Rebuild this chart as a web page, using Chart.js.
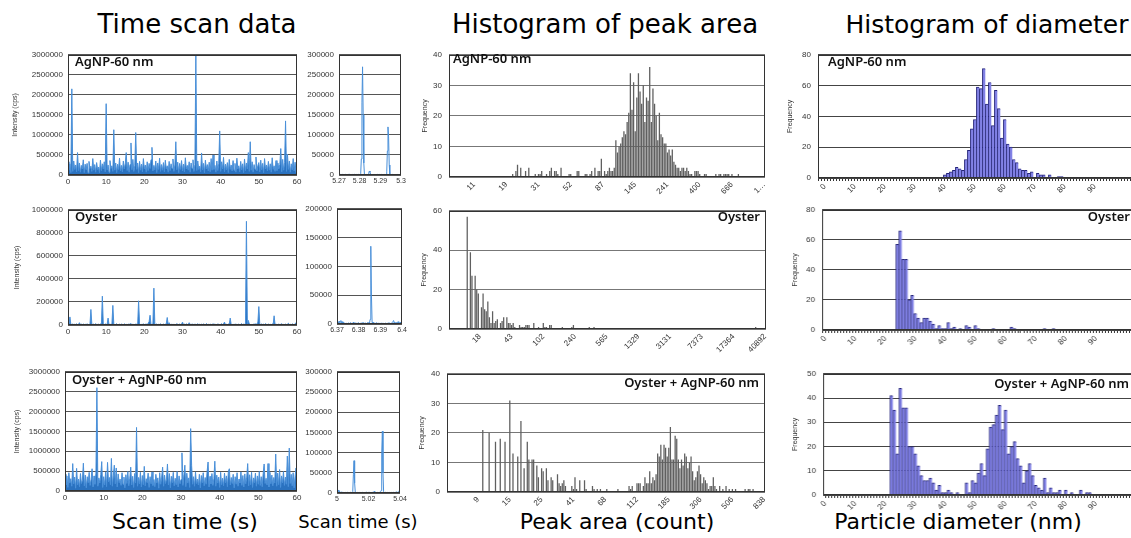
<!DOCTYPE html>
<html>
<head>
<meta charset="utf-8">
<script src="https://cdn.jsdelivr.net/npm/chart.js@4.4.1/dist/chart.umd.min.js"></script>
<style>
html, body { margin: 0; padding: 0; background: #fff; overflow: hidden; }
body { width: 1131px; height: 538px; position: relative; font-family: "DejaVu Sans", sans-serif; }
.box { position: absolute; }
.txt { position: absolute; white-space: nowrap; color: #000; line-height: 1; }
.head { font-size: 26px; transform: translateX(-50%); }
.foot { font-size: 22px; transform: translateX(-50%); }
.lab { font-family: "Noto Sans", sans-serif; font-weight: 600; font-size: 13px; color: #111; }
</style>
</head>
<body>

<div class="txt head" style="left:197px; top:11px;">Time scan data</div>
<div class="txt head" style="left:605px; top:11px;">Histogram of peak area</div>
<div class="txt head" style="left:987px; top:12px; font-size:25px;">Histogram of diameter</div>

<div class="txt foot" style="left:185px; top:511px;">Scan time (s)</div>
<div class="txt foot" style="left:358px; top:513px; font-size:18px;">Scan time (s)</div>
<div class="txt foot" style="left:617px; top:511px;">Peak area (count)</div>
<div class="txt foot" style="left:958px; top:511px;">Particle diameter (nm)</div>

<div class="box" id="c1"><canvas></canvas></div>
<div class="box" id="c2"><canvas></canvas></div>
<div class="box" id="c3"><canvas></canvas></div>
<div class="box" id="c4"><canvas></canvas></div>
<div class="box" id="c5"><canvas></canvas></div>
<div class="box" id="c6"><canvas></canvas></div>
<div class="box" id="c7"><canvas></canvas></div>
<div class="box" id="c8"><canvas></canvas></div>
<div class="box" id="c9"><canvas></canvas></div>
<div class="box" id="c10"><canvas></canvas></div>
<div class="box" id="c11"><canvas></canvas></div>
<div class="box" id="c12"><canvas></canvas></div>

<div class="txt lab" style="left:75px; top:55px;">AgNP-60 nm</div>
<div class="txt lab" style="left:75px; top:210px;">Oyster</div>
<div class="txt lab" style="left:72px; top:373px;">Oyster + AgNP-60 nm</div>
<div class="txt lab" style="left:453px; top:52px;">AgNP-60 nm</div>
<div class="txt lab" style="right:371px; top:210px;">Oyster</div>
<div class="txt lab" style="right:372px; top:376px;">Oyster + AgNP-60 nm</div>
<div class="txt lab" style="left:828px; top:55px;">AgNP-60 nm</div>
<div class="txt lab" style="right:1px; top:210px;">Oyster</div>
<div class="txt lab" style="right:2px; top:377px;">Oyster + AgNP-60 nm</div>

<script>
// ---- Time scan data (0 - 60 s, one value every 0.25 s) ----
const scanStep = 0.25;
const agnpScan = [
  330000,120000,280000,60000,2150000,90000,350000,140000,250000,80000,560000,110000,300000,70000,240000,150000,380000,60000,270000,130000,
  290000,50000,340000,160000,220000,90000,410000,120000,260000,70000,310000,140000,200000,60000,370000,110000,280000,150000,330000,80000,
  1780000,130000,250000,70000,360000,160000,230000,90000,1130000,120000,300000,60000,270000,140000,420000,100000,240000,80000,350000,150000,
  280000,560000,110000,320000,70000,260000,800000,130000,390000,90000,230000,1060000,140000,300000,60000,340000,120000,270000,80000,410000,
  150000,250000,70000,330000,110000,290000,160000,380000,690000,100000,240000,130000,350000,60000,300000,140000,420000,90000,260000,120000,
  310000,80000,370000,150000,230000,70000,340000,110000,280000,160000,400000,90000,250000,830000,130000,320000,60000,290000,140000,360000,
  100000,270000,80000,430000,150000,240000,120000,330000,70000,300000,160000,380000,90000,260000,3000000,110000,350000,140000,220000,80000,
  550000,130000,290000,60000,370000,150000,260000,100000,320000,80000,410000,120000,500000,140000,240000,70000,350000,110000,280000,1100000,
  90000,330000,150000,440000,80000,270000,130000,310000,60000,390000,140000,250000,100000,360000,120000,290000,70000,420000,150000,230000,
  80000,340000,130000,280000,60000,400000,110000,300000,150000,560000,90000,830000,120000,330000,70000,260000,140000,450000,100000,240000,
  310000,80000,370000,130000,290000,60000,410000,150000,250000,100000,340000,120000,280000,70000,430000,140000,230000,90000,360000,110000,
  300000,150000,260000,660000,80000,390000,120000,310000,1350000,90000,520000,140000,350000,70000,280000,130000,410000,100000,320000,60000,
  250000
];
const oysterScan = [
  8000,3000,70000,5000,2000,9000,4000,6000,3000,11000,2000,5000,20000,4000,7000,3000,9000,2000,6000,4000,
  10000,3000,5000,2000,135000,6000,4000,8000,3000,12000,2000,5000,7000,3000,9000,4000,250000,6000,3000,10000,
  2000,5000,60000,4000,8000,3000,6000,170000,9000,2000,5000,11000,3000,4000,7000,2000,8000,5000,3000,10000,
  4000,6000,2000,9000,3000,12000,5000,2000,7000,4000,3000,8000,6000,2000,210000,9000,3000,5000,4000,11000,
  2000,6000,8000,3000,15000,30000,85000,5000,4000,12000,320000,7000,3000,9000,2000,6000,5000,10000,3000,4000,
  8000,2000,6000,11000,65000,5000,20000,3000,7000,4000,9000,2000,6000,3000,12000,5000,4000,8000,2000,6000,
  25000,3000,7000,4000,10000,2000,5000,20000,6000,3000,9000,4000,2000,8000,5000,3000,11000,4000,6000,2000,
  7000,3000,9000,5000,2000,12000,4000,6000,3000,8000,2000,5000,10000,3000,7000,4000,2000,9000,6000,3000,
  5000,11000,4000,8000,25000,3000,6000,2000,9000,4000,60000,5000,3000,7000,2000,10000,4000,6000,3000,8000,
  2000,5000,12000,3000,7000,4000,15000,900000,6000,40000,9000,3000,5000,2000,8000,4000,11000,3000,6000,25000,
  160000,5000,3000,9000,4000,7000,2000,12000,5000,3000,8000,4000,6000,2000,10000,3000,80000,5000,7000,4000,
  2000,9000,3000,6000,11000,4000,5000,2000,8000,3000,7000,15000,4000,6000,2000,10000,5000,3000,9000,20000,
  6000
];
const mixScan = [
  420000,150000,380000,90000,460000,200000,310000,120000,690000,180000,350000,70000,570000,160000,300000,110000,440000,190000,270000,700000,
  130000,400000,80000,360000,210000,470000,140000,290000,560000,100000,380000,170000,450000,2600000,120000,330000,200000,410000,740000,90000,
  360000,150000,480000,110000,720000,230000,340000,160000,820000,120000,390000,650000,180000,580000,100000,430000,210000,300000,140000,460000,
  170000,350000,80000,410000,190000,490000,130000,320000,600000,150000,370000,90000,440000,200000,1600000,120000,340000,180000,470000,100000,
  390000,160000,620000,130000,310000,210000,450000,90000,360000,180000,480000,140000,290000,110000,420000,200000,330000,70000,460000,170000,
  350000,600000,120000,400000,190000,300000,680000,150000,440000,80000,370000,210000,470000,130000,320000,160000,490000,100000,380000,180000,
  290000,960000,140000,410000,650000,110000,450000,200000,330000,90000,1570000,640000,170000,360000,120000,480000,190000,300000,150000,420000,
  80000,390000,210000,460000,130000,340000,170000,490000,730000,100000,370000,180000,440000,140000,310000,750000,120000,400000,200000,350000,
  90000,470000,160000,320000,130000,450000,210000,380000,110000,490000,560000,150000,340000,190000,420000,80000,360000,170000,460000,120000,
  300000,200000,480000,140000,390000,100000,430000,180000,350000,690000,130000,410000,160000,470000,90000,330000,210000,450000,120000,380000,
  170000,490000,140000,360000,110000,440000,680000,190000,320000,150000,690000,100000,470000,180000,400000,130000,340000,200000,930000,120000,
  450000,160000,540000,90000,380000,210000,490000,140000,350000,170000,880000,110000,1080000,190000,420000,130000,460000,80000,370000,580000,
  200000
];

// ---- Zoomed single-particle events ----
const agnpZoomStart = 5.27, agnpZoomStep = 0.0003;
const agnpZoom = [
  2000,500,1500,0,1000,2500,500,0,1500,1000,0,2000,500,1000,0,1500,500,2000,0,1000,500,0,1500,1000,500,2000,0,1000,1500,500,0,1000,2000,500,1000,
  3000,40000,180000,270000,150000,30000,2000,
  500,1000,0,1500,500,1000,
  5000,10000,7000,1500,
  500,0,1000,1500,500,0,2000,1000,500,0,1500,500,1000,0,2000,500,1000,1500,0,500,1000,0,1500,500,1000,
  8000,60000,120000,95000,25000,2000,
  500,1000,0,1500,500,1000,0,2000,500,1000,0,500,1500,1000,0,500,1000,1500
];
const oysterZoomStart = 6.37, oysterZoomStep = 0.0003;
const oysterZoom = [
  3000,1000,4000,2000,5000,3000,6000,2000,4000,1000,3000,500,2000,1000,0,1500,500,2000,1000,0,1000,2500,500,1500,0,3000,1000,500,2000,0,1000,1500,500,2500,1000,0,1500,500,2000,1000,3000,500,1500,0,2000,1000,500,2500,1000,3000,1500,
  8000,135000,50000,3000,
  1000,3000,500,2000,1500,0,2500,1000,500,2000,0,1500,1000,500,2000,1000,0,1500,500,1000,2000,500,0,1500,1000,2500,500,1000,0,2000,1000,4000,6000,3000,1000,2000,500,3000,1000,4000,2000,1000,3000,500,2000,1000
];
const mixZoomStart = 5.0, mixZoomStep = 0.0004;
const mixZoom = [
  8000,5000,7000,3000,4000,2000,1000,3000,500,1500,0,2000,1000,500,1500,0,1000,2000,500,1000,0,1500,2500,500,1000,
  4000,45000,80000,25000,2000,
  500,1000,0,1500,500,2000,1000,0,1500,500,1000,2000,500,0,1000,1500,500,2500,1000,0,1500,500,2000,1000,500,0,1000,2500,1500,4000,2000,500,1000,0,1500,500,1000,2000,500,3000,
  6000,100000,153000,50000,3000,
  1000,500,2000,0,1000,1500,500,1000,0,2000,500,1500,1000,0,500,2000,1000,500,1500,3000,1000,500,2000,4000,2500,5000
];

// ---- Histogram of peak area (log bins, frequency per bin) ----
const agnpArea = [
  0,0,0,0,0,0,0,0,0,0, 0,0,0,0,0,0,0,0,0,0,
  0,0,0,0,0,0,0,0,0,0, 0,0,0,0,0,0,0,0,0,1,
  0,2,4,0,3,0,0,2,0,3, 0,0,0,1,0,1,1,2,0,0,
  1,0,2,3,0,2,2,1,0,3, 0,0,0,0,1,1,0,0,0,2,
  2,0,0,0,1,1,0,1,2,0, 3,0,2,2,6,0,2,1,2,3,
  2,2,3,12,8,10,11,13,15,14, 18,21,34,22,31,15,26,34,28,24,
  30,18,26,25,36,18,29,24,20,12, 21,14,13,11,11,8,9,7,9,5,
  4,3,3,2,3,3,2,3,2,1, 1,0,2,2,2,1,0,0,1,1,
  0,0,0,0,0,1,0,1,1,0, 1,1,1,1,0,1,0,0,0,1,
  0,0,0,0,0,0,0,0,0,0, 0,0,0,0,0,0
];
const agnpAreaTickBins = [15, 35, 55, 75, 95, 115, 135, 155, 175, 195];
const agnpAreaTicks = ['11', '19', '31', '52', '87', '145', '241', '400', '666', '1…'];

const oysterArea = [
  0,0,0,0,0,0,0,0,0,0, 0,57,0,39,27,0,27,20,18,0,
  11,18,10,9,14,6,3,9,3,4, 5,0,3,4,6,0,6,3,3,2,
  3,1,0,0,2,1,1,1,2,2, 2,0,0,3,0,0,1,0,0,3,
  1,1,0,2,2,0,0,0,0,0, 0,1,0,0,0,0,0,1,2,0,
  0,0,0,0,0,0,0,0,1,0, 0,1,0,0,0,0,0,0,0,0,
  0,0,0,0,0,0,0,0,0,0, 0,0,0,0,0,0,0,0,0,0,
  0,0,0,0,0,0,0,0,0,0, 0,0,0,0,0,0,0,0,0,0,
  0,0,0,0,0,0,0,0,0,0, 0,0,0,0,0,0,0,0,0,0,
  0,0,0,0,0,0,0,0,0,0, 0,0,0,0,0,0,0,0,0,0,
  0,0,0,0,0,0,0,0,0,0, 0,0,0,1,0,0,0,0,0,0
];
const oysterAreaTickBins = [19, 39, 59, 79, 99, 119, 139, 159, 179, 199];
const oysterAreaTicks = ['18', '43', '102', '240', '565', '1329', '3131', '7373', '17364', '40892'];

const mixArea = [
  0,0,0,0,0,0,0,0,0,0, 0,0,0,0,0,0,0,0,0,0,
  0,0,21,0,0,0,20,0,0,0, 17,0,0,18,0,0,17,0,0,31,
  0,13,0,0,12,0,24,0,8,0, 17,11,0,11,11,0,9,5,0,8,
  7,0,8,4,0,5,4,0,0,6, 3,2,3,4,2,0,0,0,2,1,
  5,1,0,4,0,0,4,1,0,0, 0,2,1,0,1,0,1,0,0,0,
  1,0,0,0,0,0,0,1,0,0, 0,0,0,0,2,1,2,0,0,3,
  3,3,0,2,5,3,3,7,3,5, 4,6,13,12,16,11,16,15,12,15,
  22,11,11,19,18,11,8,11,9,13, 12,8,10,12,7,4,5,7,9,6,
  3,5,4,3,1,2,2,5,2,1, 0,2,0,1,0,2,0,1,0,1,
  0,1,0,0,0,0,0,1,0,1, 1,0,1,0,0,0,0,0,0,0
];
const mixAreaTickBins = [19, 39, 59, 79, 99, 119, 139, 159, 179, 199];
const mixAreaTicks = ['9', '15', '25', '41', '68', '112', '185', '306', '506', '838'];

// ---- Histogram of diameter (1 nm bins starting at 0 nm) ----
const agnpDiam = [
  0,0,0,0,0,0,0,0,0,0, 0,0,0,0,0,0,0,0,0,0,
  0,0,0,0,0,0,0,0,0,0, 0,0,0,0,0,0,0,0,0,0,
  2,3,4,5,7,6,5,12,18,32, 38,59,58,71,48,62,34,57,45,26,
  38,22,20,12,10,6,5,5,3,4, 0,3,2,2,0,2,0,0,1,1,
  0,0,0,0,0,0,0,0,0,0, 0,0,0,0,0,0,0,0,0,0,
  0,0,0,0,0,0
];
const oysterDiam = [
  0,0,0,0,0,0,0,0,0,0, 0,0,0,0,0,0,0,0,0,0,
  0,0,0,0,57,66,47,47,20,23, 11,8,5,8,8,6,4,1,3,1,
  1,5,1,2,0,1,0,3,2,0, 3,1,0,0,0,0,1,0,0,0,
  0,0,2,1,0,0,0,0,0,0, 0,0,0,1,0,0,1,0,0,0,
  0,0,0,0,0,0,0,0,0,0, 0,0,0,0,0,0,0,0,0,0,
  0,0,0,0,0,0
];
const mixDiam = [
  0,0,0,0,0,0,0,0,0,0, 0,0,0,0,0,0,0,0,0,0,
  0,0,41,35,17,44,36,36,20,20, 17,12,8,6,6,7,5,2,4,1,
  1,2,1,0,1,0,0,5,1,6, 5,9,13,8,19,28,29,33,37,27,
  35,17,20,22,15,12,5,10,13,8, 4,3,2,7,1,3,1,1,2,0,
  2,0,1,0,0,2,0,1,1,0, 0,0,0,0,0,0,0,0,0,0,
  0,0,0,0,0,0
];
const diamTickLabels = ['0', '10', '20', '30', '40', '50', '60', '70', '80', '90'];

Chart.defaults.font.family = '"Liberation Sans", Arial, sans-serif';
Chart.defaults.font.size = 8;
Chart.defaults.color = '#333';
Chart.defaults.animation = false;

// border around the plot area
const frame = {
  id: 'frame',
  afterDatasetsDraw(chart) {
    const a = chart.chartArea, c = chart.ctx;
    c.save();
    c.strokeStyle = '#333';
    c.lineWidth = 1;
    c.strokeRect(Math.round(a.left) + 0.5, Math.round(a.top) + 0.5,
                 Math.round(a.right - a.left) - 1, Math.round(a.bottom - a.top) - 1);
    c.restore();
  }
};

// put a chart box so its plot area lands on L..R, T..B
function place(id, b) {
  const el = document.getElementById(id);
  el.style.left = (b.L - b.yw) + 'px';
  el.style.top = (b.T - b.pt) + 'px';
  el.style.width = (b.R - b.L + b.yw + b.pr) + 'px';
  el.style.height = (b.B - b.T + b.pt + b.xh) + 'px';
  return el.querySelector('canvas');
}

function yAxis(b, max, step, title, titleX, gridColor) {
  return {
    min: 0, max: max,
    ticks: { stepSize: step, padding: b.tp || 5, callback: v => String(v) },
    grid: { color: gridColor, lineWidth: 1, drawTicks: false },
    border: { display: false },
    title: {
      display: !!title, text: title, font: { size: 7 }, color: '#333',
      padding: { top: titleX - (b.L - b.yw) - 4.2, bottom: 0 }
    },
    afterFit: s => { s.width = b.yw; }
  };
}

function scanChart(id, b, values, t0, dt, o) {
  const canvas = place(id, b);
  const pts = values.map((v, i) => ({ x: t0 + i * dt, y: v }));
  new Chart(canvas, {
    type: 'line',
    data: {
      datasets: [{
        data: pts,
        borderColor: '#4a90d9',
        borderWidth: 1,
        pointRadius: 0,
        tension: 0,
        fill: o.fill ? 'origin' : false,
        backgroundColor: '#2a72c0'
      }]
    },
    options: {
      responsive: true,
      maintainAspectRatio: false,
      layout: { padding: { top: b.pt, right: b.pr, left: 0, bottom: 0 } },
      plugins: { legend: { display: false }, tooltip: { enabled: false } },
      scales: {
        x: {
          type: 'linear', min: o.xmin, max: o.xmax,
          ticks: { stepSize: o.xstep, autoSkip: false, maxRotation: 0, padding: 2,
                   font: { size: o.xfont || 8 },
                   callback: v => String(+v.toFixed(2)) },
          grid: { display: false, drawTicks: false },
          border: { display: false },
          afterFit: s => { s.height = b.xh; }
        },
        y: yAxis(b, o.ymax, o.ystep, o.title, o.titleX, '#555')
      }
    },
    plugins: [frame]
  });
}

function areaChart(id, b, values, tickBins, tickText, o) {
  const canvas = place(id, b);
  const pts = values.map((v, i) => ({ x: i, y: v }));
  new Chart(canvas, {
    type: 'bar',
    data: {
      datasets: [{
        data: pts,
        backgroundColor: '#5f5f5f',
        borderWidth: 0,
        barPercentage: 0.8,
        categoryPercentage: 1
      }]
    },
    options: {
      responsive: true,
      maintainAspectRatio: false,
      layout: { padding: { top: b.pt, right: b.pr, left: 0, bottom: 0 } },
      plugins: { legend: { display: false }, tooltip: { enabled: false } },
      scales: {
        x: {
          type: 'linear', offset: false, min: -0.5, max: values.length - 0.5,
          afterBuildTicks: ax => { ax.ticks = tickBins.map(v => ({ value: v })); },
          ticks: { autoSkip: false, minRotation: 45, maxRotation: 45, padding: 3,
                   callback: (v, i) => tickText[i] },
          grid: { display: false, drawTicks: false, offset: false },
          border: { display: false },
          afterFit: s => { s.height = b.xh; }
        },
        y: yAxis(b, o.ymax, o.ystep, 'Frequency', o.titleX, '#777')
      }
    },
    plugins: [frame]
  });
}

function diamChart(id, b, values, o) {
  const canvas = place(id, b);
  const pts = values.map((v, i) => ({ x: i, y: v }));
  const binTicks = [];
  for (let i = Math.ceil(o.xmin); i <= o.xmax; i++) binTicks.push(i);
  new Chart(canvas, {
    type: 'bar',
    data: {
      datasets: [{
        data: pts,
        backgroundColor: '#8181e6',
        borderColor: '#23237a',
        borderWidth: { left: 1, top: 1, right: 0, bottom: 0 },
        borderSkipped: false,
        barPercentage: 1,
        categoryPercentage: 1
      }]
    },
    options: {
      responsive: true,
      maintainAspectRatio: false,
      layout: { padding: { top: b.pt, right: b.pr, left: 0, bottom: 0 } },
      plugins: { legend: { display: false }, tooltip: { enabled: false } },
      scales: {
        x: {
          type: 'linear', offset: false, min: o.xmin, max: o.xmax,
          afterBuildTicks: ax => { ax.ticks = binTicks.map(v => ({ value: v })); },
          ticks: { autoSkip: false, minRotation: 45, maxRotation: 45, padding: 1,
                   callback: v => diamTickLabels.includes(String(v)) ? String(v) : '' },
          grid: { display: true, drawOnChartArea: false, drawTicks: true, tickLength: 3,
                  color: '#333', offset: false },
          border: { display: false },
          afterFit: s => { s.height = b.xh; }
        },
        y: yAxis(b, o.ymax, o.ystep, 'Frequency', o.titleX, '#444')
      }
    },
    plugins: [frame]
  });
}

// Row 1: AgNP-60 nm
scanChart('c1', { L: 68, T: 53, R: 297, B: 175, yw: 68, pt: 8, pr: 8, xh: 16 },
  agnpScan, 0, scanStep, { xmin: 0, xmax: 60, xstep: 10, ymax: 3000000, ystep: 500000, title: 'Intensity (cps)', titleX: 15, fill: true });
scanChart('c2', { L: 339, T: 53, R: 401, B: 175, yw: 40, pt: 8, pr: 10, xh: 16 },
  agnpZoom, agnpZoomStart, agnpZoomStep, { xmin: 5.27, xmax: 5.3, xstep: 0.01, ymax: 300000, ystep: 50000, xfont: 7 });
areaChart('c3', { L: 449, T: 51, R: 766, B: 177, yw: 40, pt: 8, pr: 8, xh: 26, tp: 7 },
  agnpArea, agnpAreaTickBins, agnpAreaTicks, { ymax: 40, ystep: 10, titleX: 425 });
diamChart('c4', { L: 818, T: 51, R: 818 + 3 * 107.8, B: 178, yw: 40, pt: 8, pr: 8, xh: 26, tp: 7 },
  agnpDiam, { xmin: -2.3, xmax: 105.5, ymax: 80, ystep: 20, titleX: 790 });

// Row 2: Oyster
scanChart('c5', { L: 68, T: 208, R: 297, B: 325, yw: 68, pt: 8, pr: 8, xh: 16 },
  oysterScan, 0, scanStep, { xmin: 0, xmax: 60, xstep: 10, ymax: 1000000, ystep: 200000, title: 'Intensity (cps)', titleX: 17, fill: true });
scanChart('c6', { L: 337, T: 207, R: 402, B: 324, yw: 40, pt: 8, pr: 10, xh: 16 },
  oysterZoom, oysterZoomStart, oysterZoomStep, { xmin: 6.37, xmax: 6.4, xstep: 0.01, ymax: 200000, ystep: 50000, xfont: 7 });
areaChart('c7', { L: 449, T: 207, R: 767, B: 329, yw: 40, pt: 8, pr: 8, xh: 26, tp: 7 },
  oysterArea, oysterAreaTickBins, oysterAreaTicks, { ymax: 60, ystep: 20, titleX: 424 });
diamChart('c8', { L: 822, T: 206, R: 822 + 3 * 106.5, B: 330, yw: 44, pt: 8, pr: 8, xh: 26, tp: 7 },
  oysterDiam, { xmin: -1, xmax: 105.5, ymax: 80, ystep: 20, titleX: 795 });

// Row 3: Oyster + AgNP-60 nm
scanChart('c9', { L: 65, T: 370, R: 297, B: 491, yw: 65, pt: 8, pr: 8, xh: 16 },
  mixScan, 0, scanStep, { xmin: 0, xmax: 60, xstep: 10, ymax: 3000000, ystep: 500000, title: 'Intensity (cps)', titleX: 17, fill: true });
scanChart('c10', { L: 337, T: 370, R: 400, B: 493, yw: 40, pt: 8, pr: 10, xh: 16 },
  mixZoom, mixZoomStart, mixZoomStep, { xmin: 5.0, xmax: 5.04, xstep: 0.02, ymax: 300000, ystep: 50000, xfont: 7 });
areaChart('c11', { L: 447, T: 370, R: 766, B: 492, yw: 40, pt: 8, pr: 8, xh: 26, tp: 7 },
  mixArea, mixAreaTickBins, mixAreaTicks, { ymax: 40, ystep: 10, titleX: 422 });
diamChart('c12', { L: 823, T: 370, R: 823 + 3 * 106.2, B: 495, yw: 45, pt: 8, pr: 8, xh: 26, tp: 7 },
  mixDiam, { xmin: -0.7, xmax: 105.5, ymax: 50, ystep: 10, titleX: 795 });
</script>
</body>
</html>
